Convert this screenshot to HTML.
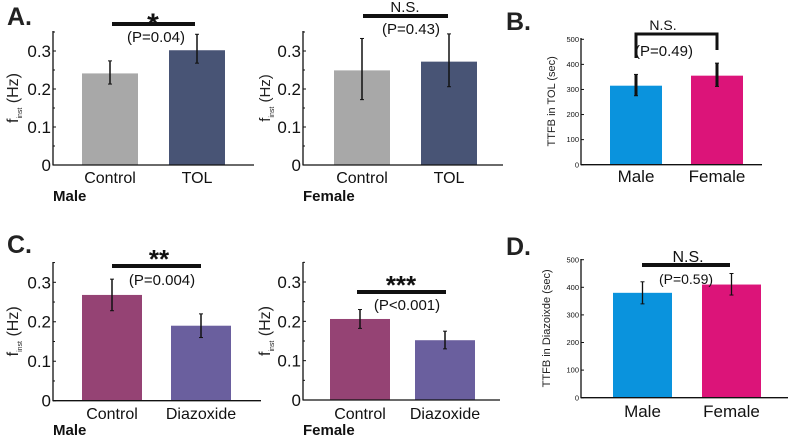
<!DOCTYPE html>
<html><head><meta charset="utf-8"><style>
html,body{margin:0;padding:0;background:#fff;}
svg{display:block;font-family:"Liberation Sans",Arial,sans-serif;}
</style></head><body>
<svg id="fig" width="791" height="436" viewBox="0 0 791 436"></svg>
<script>
// Panel data arrays
const catsTOL = ["Control","TOL"];
const catsDZ = ["Control","Diazoxide"];
const catsSex = ["Male","Female"];
const aMaleVals = [0.241, 0.302];
const aMaleErrHi = [0.274, 0.344];
const aMaleErrLo = [0.213, 0.268];
const aFemVals = [0.249, 0.272];
const aFemErrHi = [0.333, 0.345];
const aFemErrLo = [0.172, 0.206];
const bVals = [315, 355];
const bErrHi = [360, 405];
const bErrLo = [275, 312];
const cMaleVals = [0.268, 0.190];
const cMaleErrHi = [0.308, 0.220];
const cMaleErrLo = [0.228, 0.160];
const cFemVals = [0.206, 0.152];
const cFemErrHi = [0.230, 0.175];
const cFemErrLo = [0.182, 0.130];
const dVals = [380, 410];
const dErrHi = [420, 450];
const dErrLo = [340, 372];
const fTicks = [0, 0.1, 0.2, 0.3];
const fTickLabels = ["0","0.1","0.2","0.3"];
const tTicks = [0,100,200,300,400,500];
const tTickLabels = ["0","100","200","300","400","500"];

const NS="http://www.w3.org/2000/svg";
const svg=document.getElementById('fig');
function el(tag,attrs,parent,text){const e=document.createElementNS(NS,tag);for(const k in attrs)e.setAttribute(k,attrs[k]);if(text!==undefined)e.textContent=text;(parent||svg).appendChild(e);return e;}

function panel(o){
  const g=el('g',{});
  
  
  const y=v=>o.y0-(v-o.vmin)/(o.vmax-o.vmin)*(o.y0-o.yTop);
  o.vals.forEach((v,i)=>{
    const r=el('rect',{x:o.bx[i],y:y(v),width:o.bw,height:o.y0-y(v),fill:o.colors[i]},g);
    
    
    const cx=o.bx[i]+o.bw/2;
    const e=el('line',{x1:cx,x2:cx,y1:y(o.hi[i]),y2:y(o.lo[i]),stroke:'#111','stroke-width':o.ew},g);
    
    
    [o.hi[i],o.lo[i]].forEach(w=>el('line',{x1:cx-2,x2:cx+2,y1:y(w),y2:y(w),stroke:'#111','stroke-width':1},g));
    const t=el('text',{x:cx,y:o.catY,'text-anchor':'middle','font-size':o.catFs,fill:'#111'},g,o.cats[i]);
    
    
  });
  const ax=el('line',{x1:o.ax,x2:o.ax,y1:o.axTop,y2:o.y0+0.5,stroke:'#111','stroke-width':1.3},g);
  
  
  const xx=el('line',{x1:o.ax,x2:o.axEnd,y1:o.y0,y2:o.y0,stroke:'#111','stroke-width':1.3},g);
  
  
  o.ticks.forEach((t,i)=>{
    el('line',{x1:o.ax,x2:o.ax+3,y1:y(t),y2:y(t),stroke:'#111','stroke-width':1},g);
    const tl=el('text',{x:o.ax-2,y:y(t)+o.tickFs*0.35,'text-anchor':'end','font-size':o.tickFs,fill:'#111'},g,o.tickLabels[i]);
    
    
  });
  if(o.minor) o.minor.forEach(t=>el('line',{x1:o.ax,x2:o.ax+2,y1:y(t),y2:y(t),stroke:'#111','stroke-width':1},g));
  const yt=el('text',{transform:`translate(${o.ytX},${(o.y0+o.axTop)/2}) rotate(-90)`,'text-anchor':'middle','font-size':o.ytFs,fill:'#222'},g);
  
  
  if(o.finst){
    el('tspan',{},yt,'f');
    el('tspan',{'font-size':7,dy:4},yt,'inst');
    el('tspan',{dy:-4},yt,' (Hz)');
  } else yt.textContent=o.ytitle;
  if(o.bracket){
    el('path',{d:`M${o.sx1},${o.bl} V${o.sy} H${o.sx2} V${o.br}`,fill:'none',stroke:'#111','stroke-width':3},g);
  } else {
    const sb=el('rect',{x:o.sx1,y:o.sy-2,width:o.sx2-o.sx1,height:4,fill:'#111'},g);
    
    
  }
  const st=el('text',{x:o.starX,y:o.starY,'text-anchor':'middle','font-size':o.starFs,'font-weight':o.starBold?'bold':'normal',fill:'#111'},g,o.star);
  
  
  const pt=el('text',{x:o.pX,y:o.pY,'text-anchor':'middle','font-size':o.pFs,fill:'#111'},g,o.p);
  
  
  if(o.sex){
    const sx=el('text',{x:o.ax,y:o.sexY,'font-size':15,'font-weight':'bold',fill:'#111'},g,o.sex);
    
    
  }
}
const fMinor=[0.05,0.15,0.25,0.35];
const fbase={vmin:0,vmax:0.3,ticks:fTicks,tickLabels:fTickLabels,minor:fMinor,tickFs:17,catFs:16,finst:true,ytFs:16,bw:56,ew:1.5,starBold:true,pFs:15};
panel(Object.assign({},fbase,{name:'panel-a-male',cats:catsTOL,vals:aMaleVals,hi:aMaleErrHi,lo:aMaleErrLo,colors:['#a8a8a8','#485475'],
  bx:[82,169],ax:53,axEnd:254,y0:165,yTop:51,axTop:31,catY:183,ytX:18,sexY:201,sex:'Male',
  sx1:112,sx2:195,sy:24,star:'*',starX:153,starY:34,starFs:30,p:'(P=0.04)',pX:156,pY:42}));
panel(Object.assign({},fbase,{name:'panel-a-female',cats:catsTOL,vals:aFemVals,hi:aFemErrHi,lo:aFemErrLo,colors:['#a8a8a8','#485475'],
  bx:[334,421],ax:303,axEnd:503,y0:165,yTop:51,axTop:31,catY:183,ytX:270,ytFs:15,sexY:201,sex:'Female',
  sx1:363,sx2:448,sy:16,star:'N.S.',starBold:false,starX:405,starY:12,starFs:15,p:'(P=0.43)',pX:411,pY:34}));
panel({name:'panel-b',cats:catsSex,vals:bVals,hi:bErrHi,lo:bErrLo,colors:['#0a93dd','#dc1479'],
  vmin:0,vmax:500,ticks:tTicks,tickLabels:tTickLabels,tickFs:7.5,catFs:17,ytitle:'TTFB in TOL (sec)',ytFs:11,
  bx:[610,691],bw:52,ew:3,ax:581,axEnd:762,y0:164.7,yTop:39.3,axTop:38,catY:182,ytX:555,
  bracket:true,sx1:636,sx2:717,sy:34,bl:58,br:50,star:'N.S.',starX:663,starY:30,starFs:14,p:'(P=0.49)',pX:664,pY:56,pFs:15});
panel(Object.assign({},fbase,{name:'panel-c-male',cats:catsDZ,vals:cMaleVals,hi:cMaleErrHi,lo:cMaleErrLo,colors:['#954374','#6a5f9e'],
  bx:[82,171],bw:60,ax:53,axEnd:261,y0:400.7,yTop:282.3,axTop:262,catY:419,ytX:18,sexY:435,sex:'Male',
  sx1:112,sx2:201,sy:266,star:'**',starX:159,starY:268,starFs:26,p:'(P=0.004)',pX:162,pY:285}));
panel(Object.assign({},fbase,{name:'panel-c-female',cats:catsDZ,vals:cFemVals,hi:cFemErrHi,lo:cFemErrLo,colors:['#954374','#6a5f9e'],
  bx:[330,415],bw:60,ax:303,axEnd:500,y0:400,yTop:282,axTop:262,catY:419,ytX:270,sexY:435,sex:'Female',
  sx1:357,sx2:446,sy:292,star:'***',starX:401,starY:294,starFs:26,p:'(P<0.001)',pX:407,pY:310}));
panel({name:'panel-d',cats:catsSex,vals:dVals,hi:dErrHi,lo:dErrLo,colors:['#0a93dd','#dc1479'],
  vmin:0,vmax:500,ticks:tTicks,tickLabels:tTickLabels,tickFs:7.5,catFs:17,ytitle:'TTFB in Diazoixde (sec)',ytFs:11,
  bx:[613,702],bw:59,ew:1.3,ax:581,axEnd:788,y0:397.7,yTop:259.7,axTop:259,catY:417,ytX:550,
  sx1:642,sx2:730,sy:265,star:'N.S.',starX:688,starY:262,starFs:16,p:'(P=0.59)',pX:686,pY:284,pFs:14});
[['A.',7,25],['B.',506,30],['C.',7,253],['D.',506,255]].forEach(a=>{
  const t=el('text',{x:a[1],y:a[2],'font-size':25,'font-weight':'bold',fill:'#222'},svg,a[0]);
  
  
});
</script>
</body></html>
